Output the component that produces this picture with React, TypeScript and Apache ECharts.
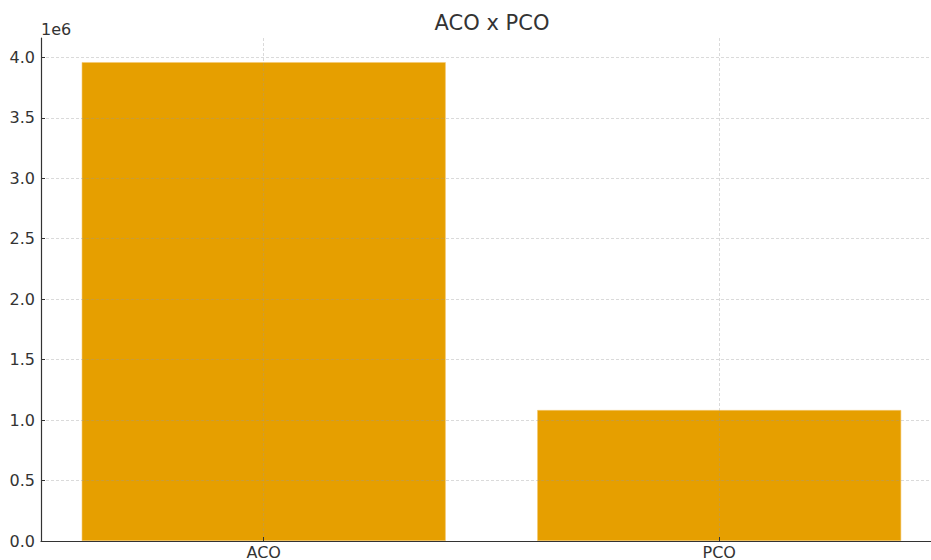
import React, { useEffect, useRef } from "react";
import * as echarts from "echarts";

const categories = ["ACO", "PCO"];
const values = [3960000, 1083000];
const yTicks = [0, 500000, 1000000, 1500000, 2000000, 2500000, 3000000, 3500000, 4000000];
const xTicks = [0, 1];
const titleText = "ACO x PCO";
const yScaleLabel = "1e6";

export default function App() {
  const ref = useRef<HTMLDivElement>(null);
  useEffect(() => {
    if (!ref.current) return;
    const chart = echarts.init(ref.current, undefined, { renderer: "svg" });
    const font = "DejaVu Sans";
    const grid = "rgba(150,150,150,0.45)";
    chart.setOption({
      animation: false,
      backgroundColor: "#ffffff",
      textStyle: { fontFamily: font },
      title: {
        text: titleText,
        left: 487,
        textAlign: "center",
        top: 7,
        textStyle: { fontFamily: font, fontSize: 21, fontWeight: "normal", color: "#333333" },
      },
      grid: { left: 41, top: 38, right: 0, height: 503.7, containLabel: false },
      xAxis: {
        type: "value",
        min: -0.489,
        max: 1.465,
        z: 3,
        axisLine: { show: true, onZero: false, lineStyle: { color: "#333333", width: 1.2 } },
        axisTick: { show: true, inside: true, length: 4, customValues: xTicks, lineStyle: { color: "#333333" } },
        axisLabel: {
          customValues: xTicks,
          formatter: (v: number) => categories[Math.round(v)] ?? "",
          fontFamily: font,
          fontSize: 16,
          color: "#333333",
          margin: 3,
        },
        splitLine: { show: true, lineStyle: { color: grid, type: [3, 2], width: 0.8 } },
      },
      yAxis: {
        type: "value",
        min: 0,
        max: 4160000,
        z: 3,
        name: yScaleLabel,
        nameLocation: "end",
        nameGap: 1,
        nameTextStyle: { fontFamily: font, fontSize: 16, color: "#333333", align: "left", verticalAlign: "bottom" },
        axisLine: { show: true, onZero: false, lineStyle: { color: "#333333", width: 1.2 } },
        axisTick: { show: true, inside: true, length: 4, customValues: yTicks, lineStyle: { color: "#333333" } },
        axisLabel: {
          customValues: yTicks,
          formatter: (v: number) => (v / 1e6).toFixed(1),
          fontFamily: font,
          fontSize: 16,
          color: "#333333",
          margin: 6,
        },
        splitLine: { show: true, lineStyle: { color: grid, type: [3, 2], width: 0.8 } },
      },
      series: [
        {
          type: "bar",
          data: values.map((v, i) => [i, v]),
          barWidth: 364,
          itemStyle: { color: "#E69F00", borderColor: "#f3c870", borderWidth: 0.6 },
        },
      ],
    });
    return () => chart.dispose();
  }, []);
  return (
    <div
      ref={ref}
      style={{ position: "fixed", left: 0, top: 0, width: 931, height: 560 }}
    />
  );
}
